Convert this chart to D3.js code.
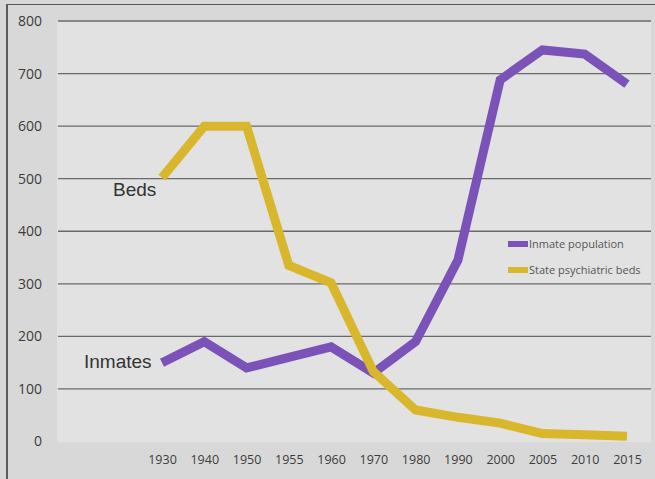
<!DOCTYPE html>
<html><head><meta charset="utf-8">
<script src="https://cdn.jsdelivr.net/npm/d3@7"></script>
<style>
html,body{margin:0;padding:0;background:#d9d9d9;}
svg{display:block;}
</style></head>
<body>
<script>
const years = ["1930","1940","1950","1955","1960","1970","1980","1990","2000","2005","2010","2015"];
const inmates = [150,190,140,160,180,130,190,345,688,745,737,680];
const beds = [502,600,600,335,302,133,60,46,35,15,13,10];
const yTicks = [0,100,200,300,400,500,600,700,800];
const seriesNames = ["Inmate population","State psychiatric beds"];
const colors = ["#7b52b8","#d8b72c"];

const W = 655, H = 479;
const svg = d3.select("body").append("svg").attr("width",W).attr("height",H);

// background / frame
svg.append("rect").attr("x",0).attr("y",0).attr("width",W).attr("height",H).attr("fill","#d8d8d8");
svg.append("rect").attr("x",57).attr("y",21).attr("width",594).attr("height",421).attr("fill","#e2e2e2");
svg.append("line").attr("x1",7).attr("x2",7).attr("y1",4).attr("y2",H).attr("stroke","#333").attr("stroke-width",1.5);
svg.append("line").attr("x1",7).attr("x2",W).attr("y1",4.5).attr("y2",4.5).attr("stroke","#555").attr("stroke-width",1.2);

const y = d3.scaleLinear().domain([0,800]).range([441.5,21]);
const x = d3.scalePoint().domain(years).range([162,627]);

// gridlines
svg.append("g").selectAll("line").data(yTicks.filter(d=>d>0)).join("line")
  .attr("x1",58).attr("x2",651).attr("y1",d=>y(d)).attr("y2",d=>y(d))
  .attr("stroke","#6a6a6a").attr("stroke-width",1.3);

// y axis labels
const yAxis = d3.axisLeft(y).tickValues(yTicks).tickSize(0).tickPadding(0);
const gy = svg.append("g").attr("transform","translate(42,0)").call(yAxis);
gy.select(".domain").remove();
gy.selectAll("text").attr("font-family","'Open Sans', sans-serif").attr("font-size",14).attr("fill","#3c3c3c");

// x axis labels
const xAxis = d3.axisBottom(x).tickSize(0).tickPadding(0);
const gx = svg.append("g").attr("transform","translate(0,455)").call(xAxis);
gx.select(".domain").remove();
gx.selectAll("text").attr("font-family","'Open Sans', sans-serif").attr("font-size",12.5).attr("fill","#3c3c3c");

// lines
const line = d3.line().x((d,i)=>x(years[i])).y(d=>y(d)).curve(d3.curveLinear);
[inmates,beds].forEach((s,k)=>{
  svg.append("path").datum(s).attr("d",line).attr("fill","none")
    .attr("stroke",colors[k]).attr("stroke-width",9).attr("stroke-linejoin","miter").attr("stroke-linecap","butt");
});

// series labels
svg.append("text").attr("x",113).attr("y",196).text("Beds")
  .attr("font-family","'Liberation Sans', Arial, sans-serif").attr("font-size",19).attr("fill","#333");
svg.append("text").attr("x",84).attr("y",368).text("Inmates")
  .attr("font-family","'Liberation Sans', Arial, sans-serif").attr("font-size",19).attr("fill","#333");

// legend
const lg = svg.append("g");
seriesNames.forEach((n,i)=>{
  const yy = 244 + i*26;
  lg.append("rect").attr("x",508).attr("y",yy-3).attr("width",20).attr("height",6).attr("fill",colors[i]);
  lg.append("text").attr("x",529).attr("y",yy+4).text(n)
    .attr("font-family","'Open Sans', sans-serif").attr("font-size",11).attr("fill","#555");
});
</script>
</body></html>
